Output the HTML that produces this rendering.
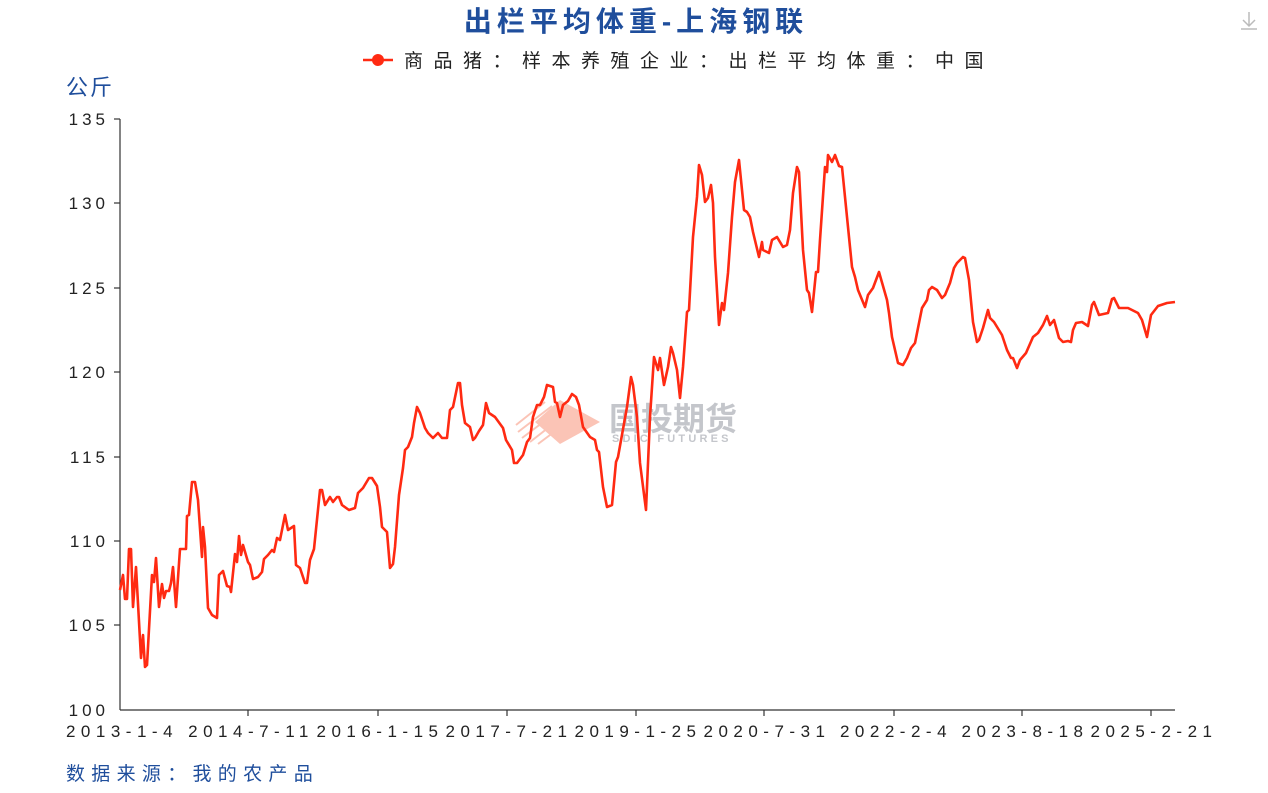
<!DOCTYPE html>
<html><head><meta charset="utf-8"><style>
body{margin:0;background:#fff;width:1268px;height:793px;overflow:hidden;font-family:"Liberation Sans","Noto Sans CJK SC",sans-serif}
</style></head><body>
<svg width="1268" height="793" xmlns="http://www.w3.org/2000/svg" style="position:absolute;left:0;top:0">
<text x="636" y="31" text-anchor="middle" font-size="28" font-weight="bold" fill="#1f4e9c" letter-spacing="5" font-family="Liberation Sans,Noto Sans CJK SC,sans-serif">出栏平均体重-上海钢联</text>
<line x1="363" y1="60" x2="393" y2="60" stroke="#ff2a12" stroke-width="2.5"/>
<circle cx="378" cy="60" r="6" fill="#ff2a12"/>
<text x="404" y="67" font-size="19" fill="#222" letter-spacing="10.5" font-family="Liberation Sans,Noto Sans CJK SC,sans-serif">商品猪：样本养殖企业：出栏平均体重：中国</text>
<text x="66" y="95" font-size="22" fill="#1f4e9c" letter-spacing="2" font-family="Liberation Sans,Noto Sans CJK SC,sans-serif">公斤</text>
<g stroke="#bbb" stroke-width="1.5" fill="none"><path d="M1249 12v14M1243 20l6 6 6-6M1241 29h16"/></g>
<line x1="120" y1="119" x2="120" y2="710" stroke="#333" stroke-width="1.2"/>
<line x1="120" y1="710" x2="1175" y2="710" stroke="#333" stroke-width="1.2"/>
<g stroke="#333" stroke-width="1.2">
<line x1="114" y1="119" x2="120" y2="119"/><line x1="114" y1="203" x2="120" y2="203"/><line x1="114" y1="288" x2="120" y2="288"/><line x1="114" y1="372" x2="120" y2="372"/><line x1="114" y1="457" x2="120" y2="457"/><line x1="114" y1="541" x2="120" y2="541"/><line x1="114" y1="625" x2="120" y2="625"/>
<line x1="248" y1="710" x2="248" y2="716"/><line x1="378" y1="710" x2="378" y2="716"/><line x1="507" y1="710" x2="507" y2="716"/><line x1="636" y1="710" x2="636" y2="716"/><line x1="764" y1="710" x2="764" y2="716"/><line x1="894" y1="710" x2="894" y2="716"/><line x1="1022" y1="710" x2="1022" y2="716"/><line x1="1151" y1="710" x2="1151" y2="716"/>
</g>
<g font-size="17" fill="#222" text-anchor="end" letter-spacing="4" font-family="Liberation Sans,sans-serif">
<text x="109" y="125">135</text><text x="109" y="209">130</text><text x="109" y="294">125</text><text x="109" y="378">120</text><text x="109" y="463">115</text><text x="109" y="547">110</text><text x="109" y="631">105</text><text x="109" y="716">100</text>
</g>
<g font-size="17" fill="#222" text-anchor="middle" letter-spacing="5.5" font-family="Liberation Sans,sans-serif">
<text x="122" y="737">2013-1-4</text><text x="251" y="737">2014-7-11</text><text x="380" y="737">2016-1-15</text><text x="509" y="737">2017-7-21</text><text x="638" y="737">2019-1-25</text><text x="767" y="737">2020-7-31</text><text x="896" y="737">2022-2-4</text><text x="1025" y="737">2023-8-18</text><text x="1154" y="737">2025-2-21</text>
</g>
<text x="66" y="780" font-size="19" fill="#1f4e9c" letter-spacing="6.3" font-family="Liberation Sans,Noto Sans CJK SC,sans-serif">数据来源：我的农产品</text>
<g opacity="0.5">
<polygon points="560,400 600,422 560,444 535,422" fill="#f88a70"/>
<g stroke="#f88a70" stroke-width="2"><line x1="516" y1="425" x2="545" y2="402"/><line x1="518" y1="432" x2="552" y2="406"/><line x1="522" y1="438" x2="558" y2="411"/><line x1="530" y1="442" x2="562" y2="417"/><line x1="538" y1="444" x2="566" y2="423"/></g>
<text x="609" y="430" font-size="32" font-weight="bold" fill="#8a8f99" font-family="Noto Sans CJK SC,sans-serif">国投期货</text>
<text x="612" y="442" font-size="11" font-weight="bold" fill="#8a8f99" letter-spacing="3.2" font-family="Liberation Sans,sans-serif">SDIC FUTURES</text>
</g>
<polyline fill="none" stroke="#ff2a12" stroke-width="2.6" stroke-linejoin="round" points="120,590 123,575 125,599 127,599 129,549 131,549 133,607 136,567 141,658 143,635 145,667 147,665 152,575 154,582 156,558 159,607 162,584 164,598 166,591 169,591 171,583 173,567 176,607 180,549 186,549 187,516 189,515 192,482 195,482 198,500 202,557 203,527 205,547 208,608 212,615 217,618 219,575 223,571 227,586 230,587 231,592 235,554 237,562 239,536 241,555 243,545 248,562 250,565 253,579 258,577 262,572 264,559 268,555 272,550 274,552 277,538 280,540 285,515 288,530 294,526 296,565 300,568 305,583 307,583 310,560 314,549 320,490 322,490 325,505 330,497 333,502 337,497 339,497 342,505 349,510 355,508 358,493 363,488 369,478 372,478 377,486 380,507 382,527 387,532 390,568 393,564 395,547 399,495 403,468 405,450 408,447 412,437 414,423 417,407 420,413 425,428 428,433 433,438 438,433 442,438 447,438 450,410 453,407 458,383 460,383 462,405 465,423 470,427 473,440 475,438 479,431 483,425 486,403 489,413 495,417 503,428 506,440 512,450 514,463 517,463 523,455 527,442 530,438 533,417 537,405 540,405 544,397 547,385 553,387 555,402 557,403 560,417 563,405 568,401 572,394 576,397 579,405 583,427 590,437 595,440 597,450 599,452 603,487 607,507 612,505 616,462 618,457 627,407 631,377 633,385 637,417 640,463 646,510 650,417 654,357 658,370 660,358 664,385 668,367 671,347 673,353 677,370 680,398 683,367 687,312 689,310 693,237 697,197 699,165 702,175 705,202 708,198 711,185 713,203 715,257 719,325 722,303 724,310 728,273 732,217 735,182 739,160 744,210 747,212 750,217 753,232 759,257 762,242 763,250 769,253 772,240 777,237 783,247 787,245 790,230 793,193 797,167 799,172 803,250 807,290 809,293 812,312 816,272 818,272 820,240 825,167 827,172 828,155 832,162 835,155 839,166 842,167 847,217 852,267 855,277 858,290 865,307 868,295 873,288 879,272 887,300 889,313 892,337 898,363 903,365 907,358 911,348 915,343 922,308 927,300 929,290 932,287 937,290 942,298 945,295 950,283 954,268 957,263 963,257 965,258 969,280 973,322 977,342 979,340 983,328 988,310 990,318 994,322 1002,335 1007,350 1011,358 1013,358 1017,368 1020,360 1026,353 1033,337 1038,333 1043,325 1047,316 1050,325 1054,320 1059,338 1063,342 1068,341 1071,342 1073,330 1076,323 1082,322 1088,326 1092,305 1094,302 1099,315 1108,313 1112,299 1114,298 1119,308 1128,308 1138,313 1142,320 1147,337 1151,315 1158,306 1167,303 1175,302"/>
</svg>
</body></html>
